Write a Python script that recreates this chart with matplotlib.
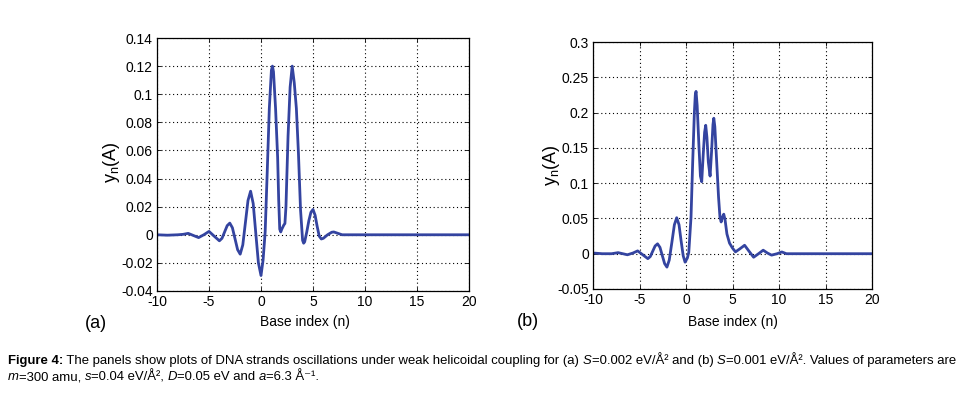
import matplotlib
matplotlib.use("Agg")
import matplotlib.pyplot as plt
from matplotlib import font_manager as fm
from matplotlib.font_manager import FontProperties

# ---- data ----
# (a) S = 0.002 eV/A^2
n_a = [-10, -9, -8, -7.5, -7, -6.5, -6, -5.5, -5, -4.5, -4, -3.75, -3.5, -3.25,
       -3, -2.75, -2.5, -2.25, -2, -1.75, -1.5, -1.25, -1, -0.75, -0.5, -0.25,
       0, 0.2, 0.4, 0.6, 0.8, 1.0, 1.1, 1.2, 1.4, 1.6, 1.7, 1.8, 1.9, 2.0, 2.2,
       2.3, 2.4, 2.5, 2.6, 2.8, 3.0, 3.2, 3.4, 3.6, 3.8, 4.0, 4.1, 4.2, 4.4, 4.6,
       4.8, 5.0, 5.2, 5.4, 5.6, 5.8, 6.0, 6.4, 6.8, 7.0, 7.4, 7.8, 8.5, 10, 20]
y_a = [0.0, -0.0003, 0.0, 0.0003, 0.001, -0.0005, -0.002, 0.0, 0.0024, -0.001,
       -0.0043, -0.0025, 0.002, 0.0065, 0.0083, 0.005, -0.0028, -0.0106, -0.0138,
       -0.0072, 0.0086, 0.0244, 0.031, 0.0222, 0.001, -0.020, -0.029, -0.018,
       0.002, 0.045, 0.09, 0.117, 0.12, 0.116, 0.09, 0.055, 0.025, 0.004, 0.002,
       0.004, 0.007, 0.008, 0.02, 0.045, 0.07, 0.105, 0.12, 0.108, 0.09, 0.058,
       0.018, -0.004, -0.006, -0.005, 0.002, 0.01, 0.016, 0.018, 0.014, 0.006,
       -0.001, -0.003, -0.0025, 0.0, 0.0018, 0.002, 0.001, 0.0, 0.0, 0.0, 0.0]

# (b) S = 0.001 eV/A^2
n_b = [-10, -9, -8, -7.3, -6.3, -5.7, -5.2, -4.65, -4.1, -3.84, -3.58, -3.32,
       -3.06, -2.8, -2.55, -2.3, -2.05, -1.8, -1.52, -1.25, -1.0, -0.75, -0.53,
       -0.3, -0.1, 0.15, 0.3, 0.54, 0.72, 0.9, 1.0, 1.08, 1.2, 1.4, 1.55, 1.69,
       1.85, 2.0, 2.12, 2.25, 2.4, 2.59, 2.75, 2.9, 2.99, 3.1, 3.3, 3.5, 3.65,
       3.78, 3.92, 4.06, 4.2, 4.4, 4.68, 5.0, 5.32, 5.8, 6.3, 6.75, 7.27, 7.8,
       8.3, 8.75, 9.2, 9.8, 10.3, 10.8, 12, 20]
y_b = [0.001, 0.0, 0.0, 0.0015, -0.0015, 0.001, 0.004, -0.0015, -0.007, -0.004,
       0.0035, 0.011, 0.014, 0.009, -0.0025, -0.014, -0.019, -0.009, 0.016,
       0.041, 0.051, 0.041, 0.0185, -0.003, -0.012, -0.006, 0.002, 0.052, 0.13,
       0.2, 0.225, 0.23, 0.21, 0.15, 0.11, 0.102, 0.14, 0.172, 0.182, 0.165,
       0.13, 0.11, 0.145, 0.183, 0.192, 0.18, 0.13, 0.08, 0.052, 0.045, 0.052,
       0.056, 0.048, 0.028, 0.015, 0.008, 0.0026, 0.007, 0.012, 0.004, -0.005,
       0.0, 0.005, 0.001, -0.002, 0.0, 0.0025, 0.0, 0.0, 0.0]

x_ticks = [-10, -5, 0, 5, 10, 15, 20]
ya_ticks = [-0.04, -0.02, 0, 0.02, 0.04, 0.06, 0.08, 0.1, 0.12, 0.14]
ya_labels = ["-0.04", "-0.02", "0", "0.02", "0.04", "0.06", "0.08", "0.1", "0.12", "0.14"]
yb_ticks = [-0.05, 0, 0.05, 0.1, 0.15, 0.2, 0.25, 0.3]
yb_labels = ["-0.05", "0", "0.05", "0.1", "0.15", "0.2", "0.25", "0.3"]

# caption pieces: (text, style)  n = normal, b = bold, i = italic
cap1 = [("Figure 4:", "b"),
        (" The panels show plots of DNA strands oscillations under weak helicoidal "
         "coupling for (a) ", "n"),
        ("S", "i"), ("=0.002 eV/Å² and (b) ", "n"), ("S", "i"),
        ("=0.001 eV/Å². Values of parameters are", "n")]
cap2 = [("m", "i"), ("=300 amu, ", "n"), ("s", "i"), ("=0.04 eV/Å², ", "n"),
        ("D", "i"), ("=0.05 eV and ", "n"), ("a", "i"), ("=6.3 Å⁻¹.", "n")]

LINE = "#3444a0"
W, H = 959, 393

names = {f.name for f in fm.fontManager.ttflist}
cap_font = "Liberation Sans Narrow" if "Liberation Sans Narrow" in names else "Liberation Sans"
plt.rcParams["font.family"] = ["Liberation Sans", "DejaVu Sans"]


def style(ax, yt, ylab, ylim):
    ax.set_xlim(-10, 20)
    ax.set_ylim(*ylim)
    ax.set_xticks(x_ticks)
    ax.set_xticklabels([str(t) for t in x_ticks])
    ax.set_yticks(yt)
    ax.set_yticklabels(ylab)
    ax.tick_params(direction="in", length=3, width=0.6, labelsize=10, pad=3,
                   top=True, right=True)
    ax.grid(True, color="black", ls=(0, (1, 2.5)), lw=0.8)
    for s in ax.spines.values():
        s.set_linewidth(0.9)


def rich_line(fig, x_px, base_px, parts, size):
    # lay the styled pieces side by side; bars around each piece keep its spaces in the width
    rend = fig.canvas.get_renderer()
    x = x_px
    for txt, st in parts:
        prop = FontProperties(family=[cap_font, "DejaVu Sans"], size=size,
                              weight="bold" if st == "b" else "normal",
                              style="italic" if st == "i" else "normal")
        fig.text(x / W, 1 - base_px / H, txt, fontproperties=prop,
                 ha="left", va="baseline")
        w_all = rend.get_text_width_height_descent("|" + txt + "|", prop, ismath=False)[0]
        w_bar = rend.get_text_width_height_descent("||", prop, ismath=False)[0]
        x += w_all - w_bar


fig = plt.figure(figsize=(9.59, 3.93), dpi=100)
ax1 = fig.add_axes([157 / W, 1 - 291 / H, 312 / W, 253 / H])
ax2 = fig.add_axes([593 / W, 1 - 289 / H, 279 / W, 247 / H])

ax1.plot(n_a, y_a, color=LINE, lw=2)
style(ax1, ya_ticks, ya_labels, (-0.04, 0.14))
ax2.plot(n_b, y_b, color=LINE, lw=2)
style(ax2, yb_ticks, yb_labels, (-0.05, 0.3))

fig.text(112 / W, 1 - 162 / H, r"y$_\mathregular{n}$(A)", rotation=90,
         ha="center", va="center", fontsize=13)
fig.text(552 / W, 1 - 165 / H, r"y$_\mathregular{n}$(A)", rotation=90,
         ha="center", va="center", fontsize=13)
fig.text(305 / W, 1 - 322 / H, "Base index (n)", ha="center", va="center", fontsize=10)
fig.text(733 / W, 1 - 322 / H, "Base index (n)", ha="center", va="center", fontsize=10)
fig.text(96 / W, 1 - 323 / H, "(a)", ha="center", va="center", fontsize=13)
fig.text(528 / W, 1 - 322 / H, "(b)", ha="center", va="center", fontsize=13)

rich_line(fig, 8, 364, cap1, 9.47)
rich_line(fig, 8, 380, cap2, 9.47)

fig.savefig("out.png", dpi=100)
